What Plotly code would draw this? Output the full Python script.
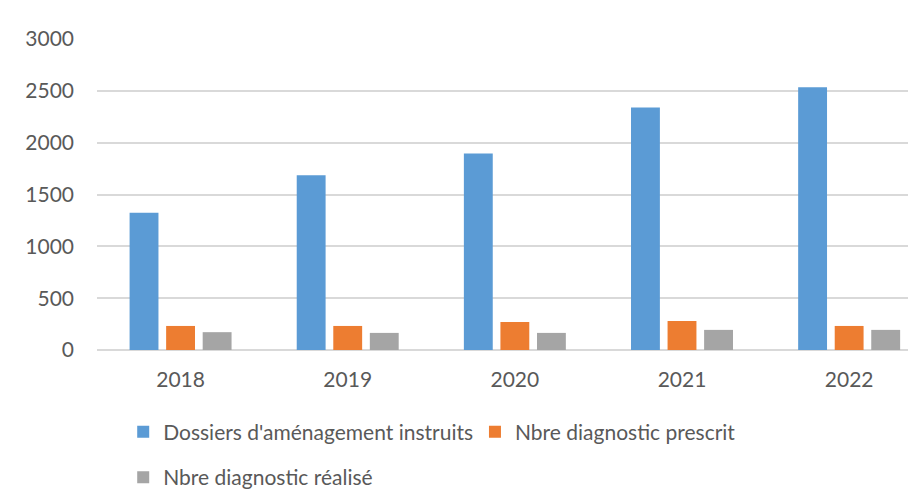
import plotly.graph_objects as go

years = ["2018", "2019", "2020", "2021", "2022"]
dossiers = [1325, 1685, 1895, 2340, 2535]
prescrit = [232, 232, 270, 280, 232]
realise = [172, 165, 165, 194, 194]
names = ["Dossiers d'aménagement instruits", "Nbre diagnostic prescrit", "Nbre diagnostic réalisé"]
colors = ["#5B9BD5", "#ED7D31", "#A5A5A5"]
y_ticks = [0, 500, 1000, 1500, 2000, 2500, 3000]

FONT = "Lato"
TXT = "#595959"

fig = go.Figure()
for vals, nm, col, lg in zip([dossiers, prescrit, realise], names, colors, ["legend", "legend2", "legend3"]):
    fig.add_trace(go.Bar(x=years, y=vals, name=nm, marker=dict(color=col, line=dict(width=0)),
                         legend=lg, showlegend=True))

def leg(x, y):
    return dict(orientation="h", bgcolor="rgba(0,0,0,0)", font=dict(family=FONT, size=21, color=TXT),
                xanchor="left", yanchor="middle", itemwidth=30, x=x, y=y, visible=True)

# page body has an 8px offset, margins compensate
fig.update_layout(
    width=916, height=503,
    margin=dict(l=89, r=8, t=31, b=161, autoexpand=False),
    paper_bgcolor="white", plot_bgcolor="white",
    barmode="group", bargap=0.344, bargroupgap=0.21,
    font=dict(family=FONT, size=21, color=TXT),
    showlegend=True,
    xaxis=dict(range=[-0.5, 4.4], showgrid=False, ticks="", showline=False, automargin=False,
               tickfont=dict(family=FONT, size=21, color=TXT), ticklabelstandoff=15),
    yaxis=dict(range=[0, 3000], tickvals=y_ticks, showgrid=True, gridcolor="#D9D9D9", gridwidth=2,
               zeroline=True, zerolinecolor="#D9D9D9", zerolinewidth=2, ticks="", ticklen=0,
               automargin=False,
               tickfont=dict(family=FONT, size=21, color=TXT), ticklabelstandoff=22),
    legend=leg(0.032, -0.264),
    legend2=leg(0.4615, -0.264),
    legend3=leg(0.032, -0.41),
)
fig.write_html("out.html")
